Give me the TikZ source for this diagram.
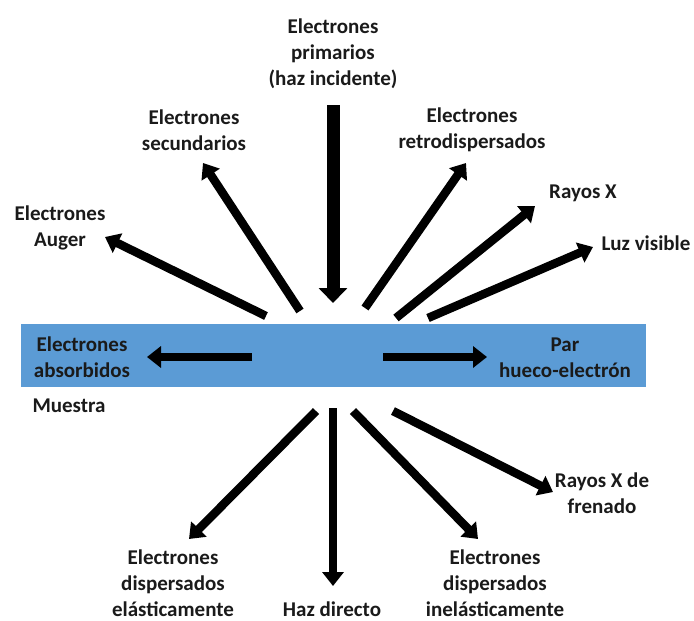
\documentclass[tikz,border=0pt]{standalone}
\usepackage{fontspec}
\setmainfont{Carlito}
\usetikzlibrary{arrows.meta}
\definecolor{sample}{HTML}{5B9BD5}
\definecolor{ink}{HTML}{1A1A1A}
\begin{document}
\begin{tikzpicture}[x=1pt,y=-1pt,
  lbl/.style={font=\fontsize{21}{26}\selectfont\bfseries,text=ink,align=center,inner sep=0pt},
  ray/.style={draw=black,line width=8.5pt,-{Triangle[width=21pt,length=14pt]}},
  beam/.style={draw=black,line width=13pt,-{Triangle[width=28pt,length=15pt]}}]
\useasboundingbox (0,0) rectangle (694,621);
% sample slab
\fill[sample] (21,324) rectangle (646,387);
% labels
\node[lbl] (prim) at (333,54) {Electrones\\primarios\\(haz incidente)};
\node[lbl] (sec) at (194,130) {Electrones\\secundarios};
\node[lbl] (retro) at (472,130) {Electrones\\retrodispersados};
\node[lbl] (auger) at (60,228) {Electrones\\Auger};
\node[lbl,anchor=base] (rx) at (583,198) {Rayos X};
\node[lbl,anchor=base] (luz) at (646,250) {Luz visible};
\node[lbl] (abs) at (82,357) {Electrones\\absorbidos};
\node[lbl] (par) at (565,358) {Par\\hueco-electrón};
\node[lbl,anchor=base] (mue) at (69,412) {Muestra};
\node[lbl] (frn) at (602,493) {Rayos X de\\frenado};
\node[lbl] (ela) at (173,583) {Electrones\\dispersados\\elásticamente};
\node[lbl,anchor=base] (dir) at (332,616) {Haz directo};
\node[lbl] (ine) at (495,583) {Electrones\\dispersados\\inelásticamente};
% ray end points
\coordinate (p0) at (333,105);  \coordinate (p1) at (333,303);
\coordinate (s0) at (300,311);  \coordinate (s1) at (203,163);
\coordinate (a0) at (266,316);  \coordinate (a1) at (105,237);
\coordinate (r0) at (365,308);  \coordinate (r1) at (466,163);
\coordinate (x0) at (396,318);  \coordinate (x1) at (535,206);
\coordinate (l0) at (428,318);  \coordinate (l1) at (593,247);
\coordinate (b0) at (252,357);  \coordinate (b1) at (147,357);
\coordinate (h0) at (383,357);  \coordinate (h1) at (487,357);
\coordinate (e0) at (316,411);  \coordinate (e1) at (189,539);
\coordinate (d0) at (333,408);  \coordinate (d1) at (333,586);
\coordinate (i0) at (353,411);  \coordinate (i1) at (478,539);
\coordinate (f0) at (393,411);  \coordinate (f1) at (553,492);
% primary beam and emitted signals
\draw[beam] (p0) -- (p1);
\draw[ray] (s0) -- (s1);
\draw[ray] (a0) -- (a1);
\draw[ray] (r0) -- (r1);
\draw[ray] (x0) -- (x1);
\draw[ray] (l0) -- (l1);
\draw[ray] (b0) -- (b1);
\draw[ray] (h0) -- (h1);
\draw[ray] (e0) -- (e1);
\draw[ray] (d0) -- (d1);
\draw[ray] (i0) -- (i1);
\draw[ray] (f0) -- (f1);
\end{tikzpicture}
\end{document}
